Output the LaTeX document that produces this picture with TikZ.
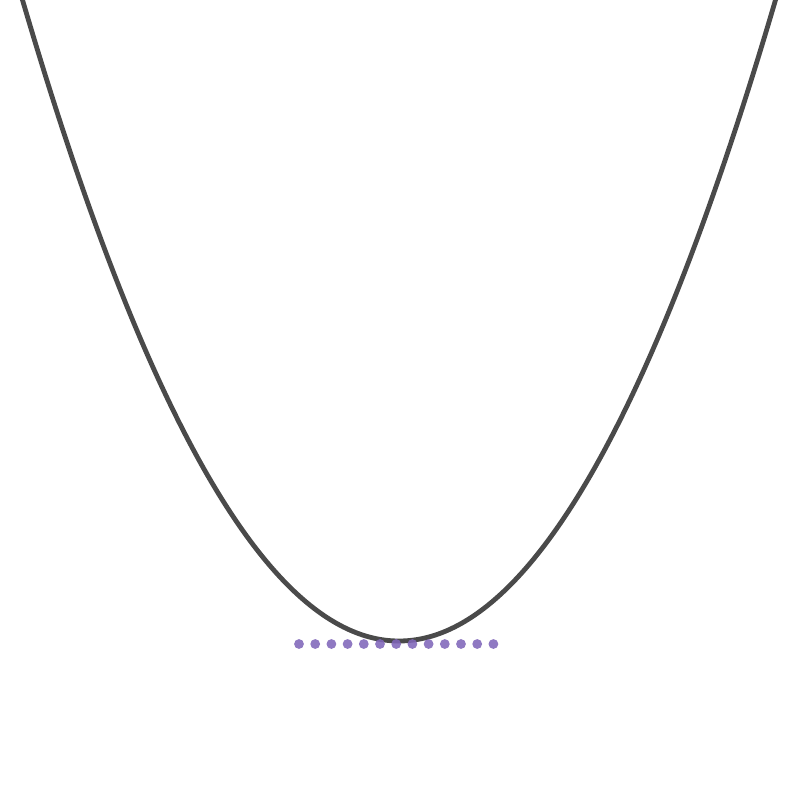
\documentclass[tikz,border=0pt]{standalone}
\definecolor{curvegray}{RGB}{74,74,74}
\definecolor{dotpurple}{RGB}{128,102,185}
\tikzset{
  curve/.style={draw=curvegray, line width=0.048cm, line cap=round},
  dotmark/.style={fill=dotpurple, fill opacity=0.88}
}
\begin{document}
\begin{tikzpicture}[x=0.01cm, y=-0.01cm]
\useasboundingbox (0,0) rectangle (800,800);
\clip (0,0) rectangle (800,800);
\draw[curve] plot[smooth, domain=-3.9:3.9, samples=120, variable=\t] ({399+100*\t}, {641-45.22*\t*\t});
\foreach \i in {0,...,12} {
  \fill[dotmark] ({299+16.2*\i},644) circle (4.9);
}
\end{tikzpicture}
\end{document}
